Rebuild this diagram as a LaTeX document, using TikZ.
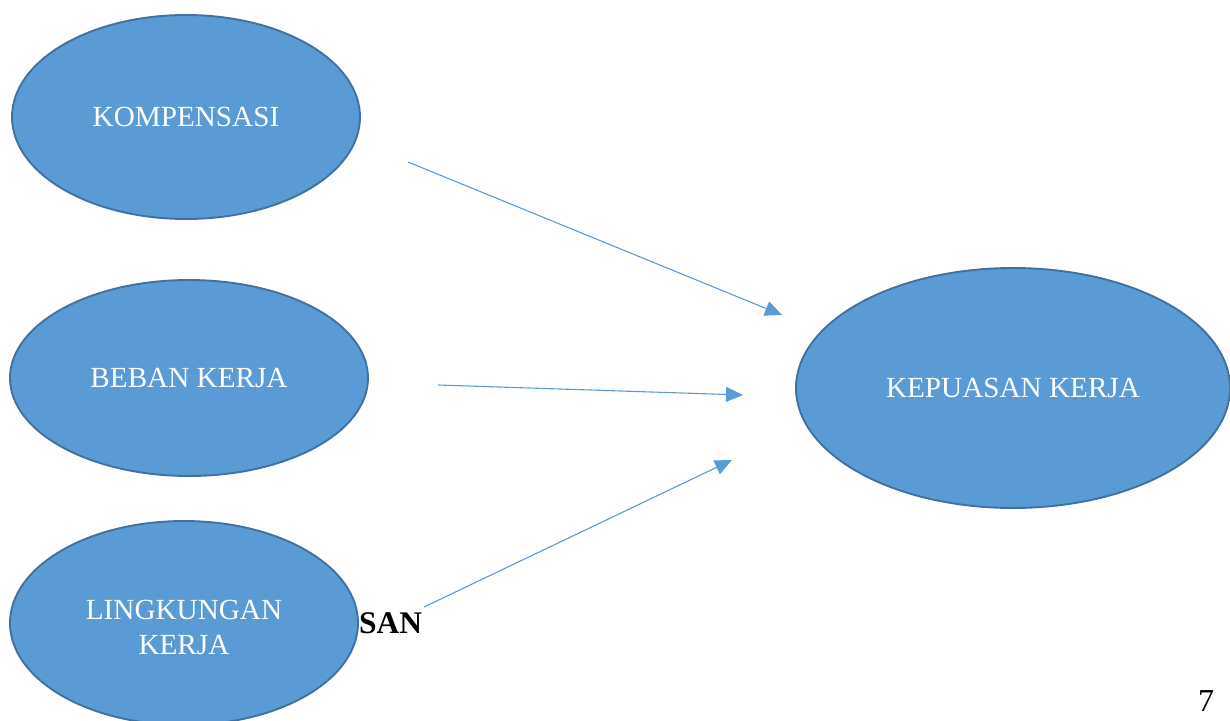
\documentclass[tikz,border=0pt]{standalone}
\usepackage{fontspec}
\setmainfont{Liberation Serif}
\usetikzlibrary{shapes.geometric,arrows.meta}
\definecolor{fillblue}{HTML}{5B9BD5}
\definecolor{edgeblue}{HTML}{41719C}
\tikzset{
  var/.style={ellipse, draw=edgeblue, line width=1.9pt, fill=fillblue, inner sep=0pt,
    text=white, font=\fontsize{29.2}{35}\selectfont, align=center},
  link/.style={draw=fillblue, line width=1.1pt, -{Triangle[length=17pt,width=15pt]}}
}
\begin{document}
\begin{tikzpicture}[x=1pt,y=-1pt]
\useasboundingbox (0,0) rectangle (1230,720);
\clip (0,0) rectangle (1230,720);
\node[font=\bfseries\fontsize{31.5}{35}\selectfont, anchor=base west, inner sep=0pt] (san) at (359,633) {SAN};
\node[var, minimum width=348pt, minimum height=204pt] (komp) at (186,117) {KOMPENSASI};
\node[var, minimum width=358pt, minimum height=196pt] (beban) at (189,378) {BEBAN KERJA};
\node[var, minimum width=348pt, minimum height=204pt] (ling) at (184,623) {};
\node[font=\fontsize{29.2}{35}\selectfont, text=white, align=center, inner sep=0pt] (lingtext) at (184,627) {LINGKUNGAN\\KERJA};
\node[var, minimum width=434pt, minimum height=240pt] (kep) at (1013,388) {KEPUASAN KERJA};
\node[font=\fontsize{32}{36}\selectfont, anchor=base, inner sep=0pt] (page) at (1206,711) {7};
\coordinate (s1) at (408,162);
\coordinate (t1) at (782,315);
\coordinate (s2) at (438,385);
\coordinate (t2) at (743,395);
\coordinate (s3) at (424,607);
\coordinate (t3) at (732,460);
\draw[link] (s1) -- (t1);
\draw[link] (s2) -- (t2);
\draw[link] (s3) -- (t3);
\end{tikzpicture}
\end{document}
